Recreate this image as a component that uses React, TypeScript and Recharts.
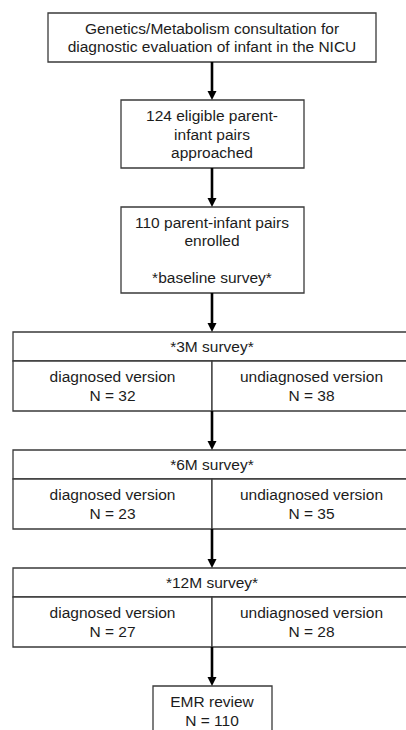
import React from "react"
import {
  ScatterChart,
  Scatter,
  XAxis,
  YAxis,
  ReferenceArea,
  ReferenceLine,
  ReferenceDot,
} from "recharts"

// content of the flow diagram
const introSteps = [
  ["Genetics/Metabolism consultation for", "diagnostic evaluation of infant in the NICU"],
  ["124 eligible parent-", "infant pairs", "approached"],
  ["110 parent-infant pairs", "enrolled", "", "*baseline survey*"],
]
const surveyLabels = ["*3M survey*", "*6M survey*", "*12M survey*"]
const versionLabels = ["diagnosed version", "undiagnosed version"]
const diagnosedN = [32, 23, 27]
const undiagnosedN = [38, 35, 28]
const emrLines = ["EMR review", "N = 110"]

// layout (chart units == pixels)
const W = 420
const H = 730
const CX = 212
const LINE_H = 18.5
const introBoxes = [
  { x1: 48, x2: 376, y1: 13, y2: 62 },
  { x1: 121, x2: 304, y1: 100, y2: 168 },
  { x1: 121, x2: 304, y1: 207, y2: 293 },
]
const SURVEY_TOP = 332
const SURVEY_STEP = 118
const HEADER_H = 29
const ROW_H = 50
const WIDE_L = 13
const WIDE_R = 411
const EMR_BOX = { x1: 153, x2: 272, y1: 686, y2: 740 }

const STROKE = "#3a3a3a"
const TEXT = "#1c1c1c"
const FONT = "'Liberation Sans', Arial, Helvetica, sans-serif"

type TextPoint = { x: number; y: number; text: string }

function linesAt(lines: string[], x: number, cy: number): TextPoint[] {
  const start = cy - ((lines.length - 1) * LINE_H) / 2
  return lines.map((text, i) => ({ x, y: start + i * LINE_H, text }))
}

const boxes: { x1: number; x2: number; y1: number; y2: number }[] = [...introBoxes]
const texts: TextPoint[] = []
const arrows: { x: number; y1: number; y2: number }[] = []

introSteps.forEach((lines, i) => {
  const b = introBoxes[i]
  texts.push(...linesAt(lines, CX, (b.y1 + b.y2) / 2))
})
arrows.push({ x: CX, y1: introBoxes[0].y2, y2: introBoxes[1].y1 })
arrows.push({ x: CX, y1: introBoxes[1].y2, y2: introBoxes[2].y1 })
arrows.push({ x: CX, y1: introBoxes[2].y2, y2: SURVEY_TOP })

surveyLabels.forEach((label, i) => {
  const top = SURVEY_TOP + i * SURVEY_STEP
  const mid = top + HEADER_H
  const bottom = mid + ROW_H
  boxes.push({ x1: WIDE_L, x2: WIDE_R, y1: top, y2: mid })
  boxes.push({ x1: WIDE_L, x2: CX, y1: mid, y2: bottom })
  boxes.push({ x1: CX, x2: WIDE_R, y1: mid, y2: bottom })
  texts.push({ x: (WIDE_L + WIDE_R) / 2, y: (top + mid) / 2, text: label })
  texts.push(...linesAt([versionLabels[0], `N = ${diagnosedN[i]}`], (WIDE_L + CX) / 2, (mid + bottom) / 2))
  texts.push(...linesAt([versionLabels[1], `N = ${undiagnosedN[i]}`], (CX + WIDE_R) / 2, (mid + bottom) / 2))
  const next = i < surveyLabels.length - 1 ? SURVEY_TOP + (i + 1) * SURVEY_STEP : EMR_BOX.y1
  arrows.push({ x: CX, y1: bottom, y2: next })
})
boxes.push(EMR_BOX)
texts.push(...linesAt(emrLines, CX, 711))

const TextShape = (props: any) => {
  const { cx, cy, payload } = props
  return (
    <text
      x={cx}
      y={cy}
      textAnchor="middle"
      dominantBaseline="central"
      fill={TEXT}
      fontSize={15.5}
      fontFamily={FONT}
    >
      {payload.text}
    </text>
  )
}

const ArrowHead = (props: any) => {
  const { cx, cy } = props
  return <path d={`M${cx - 4.5},${cy - 9} L${cx + 4.5},${cy - 9} L${cx},${cy} Z`} fill="#000" />
}

export default function App() {
  return (
    <div style={{ position: "absolute", left: 0, top: 0, width: 406, height: 730, overflow: "hidden", background: "#fff" }}>
      <ScatterChart width={W} height={H} margin={{ top: 0, right: 0, bottom: 0, left: 0 }}>
        <XAxis type="number" dataKey="x" domain={[0, W]} hide allowDataOverflow />
        <YAxis type="number" dataKey="y" domain={[0, H]} reversed hide allowDataOverflow />
        {boxes.map((b, i) => (
          <ReferenceArea
            key={`box-${i}`}
            x1={b.x1}
            x2={b.x2}
            y1={b.y1}
            y2={b.y2}
            fill="#fff"
            fillOpacity={1}
            stroke={STROKE}
            strokeWidth={1.3}
            ifOverflow="visible"
          />
        ))}
        {arrows.map((a, i) => (
          <ReferenceLine
            key={`shaft-${i}`}
            segment={[
              { x: a.x, y: a.y1 },
              { x: a.x, y: a.y2 - 6 },
            ]}
            stroke="#000"
            strokeWidth={2.6}
          />
        ))}
        {arrows.map((a, i) => (
          <ReferenceDot key={`head-${i}`} x={a.x} y={a.y2} r={4} shape={ArrowHead} />
        ))}
        <Scatter data={texts} shape={TextShape} isAnimationActive={false} />
      </ScatterChart>
    </div>
  )
}
